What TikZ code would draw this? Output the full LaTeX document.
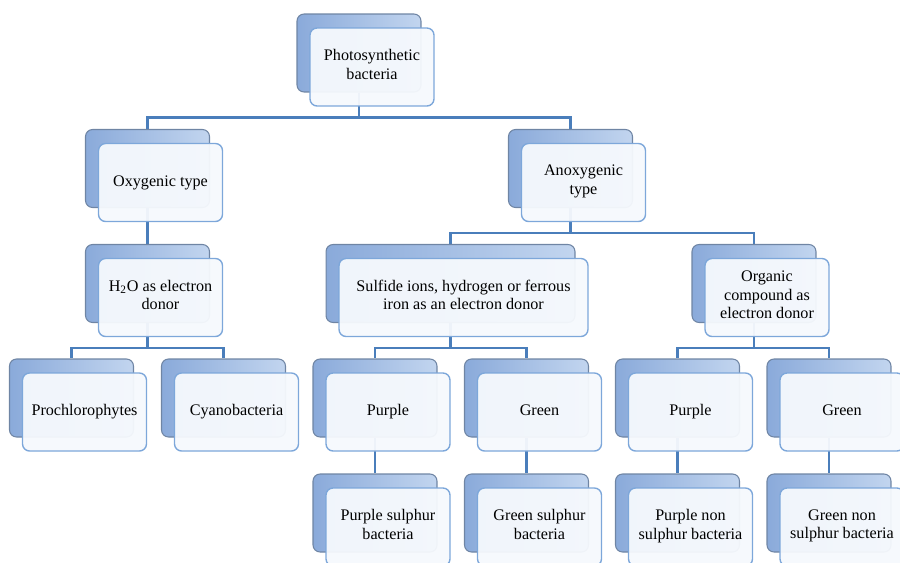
\documentclass[tikz,border=0pt]{standalone}
\usepackage{fontspec}
\setmainfont{Liberation Serif}
\usetikzlibrary{backgrounds}
\definecolor{boxdark}{HTML}{8AAADA}
\definecolor{boxlight}{HTML}{C2D5EF}
\definecolor{backline}{HTML}{6F85A4}
\definecolor{frontline}{HTML}{7DA7DA}
\definecolor{frontfill}{HTML}{F6F9FD}
\definecolor{linkblue}{HTML}{4A7EBB}

\tikzset{
  backbox/.style={rounded corners=4pt, draw=backline, line width=0.6pt,
    left color=boxdark, right color=boxlight, minimum height=1.56cm},
  frontbox/.style={rounded corners=4pt, draw=frontline, line width=0.8pt,
    fill=frontfill, fill opacity=0.95, text opacity=1, minimum height=1.56cm,
    align=center, font=\fontsize{9.2}{10.6}\selectfont,
    execute at begin node=\strut, execute at end node=\strut},
  link/.style={linkblue, line width=1.4pt},
}

% back card (name+B) and front card (name) with the text
\newcommand{\bactbox}[5]{%
  \node[backbox, minimum width=#4] (#1B) at (#2,#3) {};
  \node[frontbox, minimum width=#4] (#1) at ([shift={(13,14)}]#1B.center) {#5};
}

\begin{document}
\begin{tikzpicture}[x=0.02cm, y=-0.02cm]
% coordinates in pixels of the 900x562 frame, y downwards
\useasboundingbox (0,0) rectangle (900,562);

\bactbox{photo}{359}{53}{2.48cm}{Photosynthetic\\bacteria}
\bactbox{oxy}{147.5}{168.5}{2.48cm}{Oxygenic type}
\bactbox{anoxy}{570.5}{168.5}{2.48cm}{Anoxygenic\\type}
\bactbox{htwo}{147.5}{283.5}{2.48cm}{H\textsubscript{2}O as electron\\donor}
\bactbox{sulf}{450.5}{283.5}{4.98cm}{Sulfide ions, hydrogen or ferrous\\iron as an electron donor}
\bactbox{org}{754}{283.5}{2.48cm}{Organic\\compound as\\electron donor}
\bactbox{pro}{71.5}{398}{2.48cm}{Prochlorophytes}
\bactbox{cyan}{223.5}{398}{2.48cm}{Cyanobacteria}
\bactbox{purA}{375}{398}{2.48cm}{Purple}
\bactbox{greA}{526.5}{398}{2.48cm}{Green}
\bactbox{purB}{677.5}{398}{2.48cm}{Purple}
\bactbox{greB}{829}{398}{2.48cm}{Green}
\bactbox{purS}{375}{513}{2.48cm}{Purple sulphur\\bacteria}
\bactbox{greS}{526.5}{513}{2.48cm}{Green sulphur\\bacteria}
\bactbox{purN}{677.5}{513}{2.48cm}{Purple non\\sulphur bacteria}
\bactbox{greN}{829}{513}{2.48cm}{Green non\\sulphur bacteria}

\begin{pgfonlayer}{background}
\foreach \p/\c in {photo/oxy, photo/anoxy, anoxy/sulf, anoxy/org,
                   htwo/pro, htwo/cyan, sulf/purA, sulf/greA, org/purB, org/greB}
  {\draw[link] (\p B.south) -- ++(0,25) -| (\c B.north);}
\foreach \p/\c in {oxy/htwo, purA/purS, greA/greS, purB/purN, greB/greN}
  {\draw[link] (\p B.south) -- (\c B.north);}
\end{pgfonlayer}
\end{tikzpicture}
\end{document}
